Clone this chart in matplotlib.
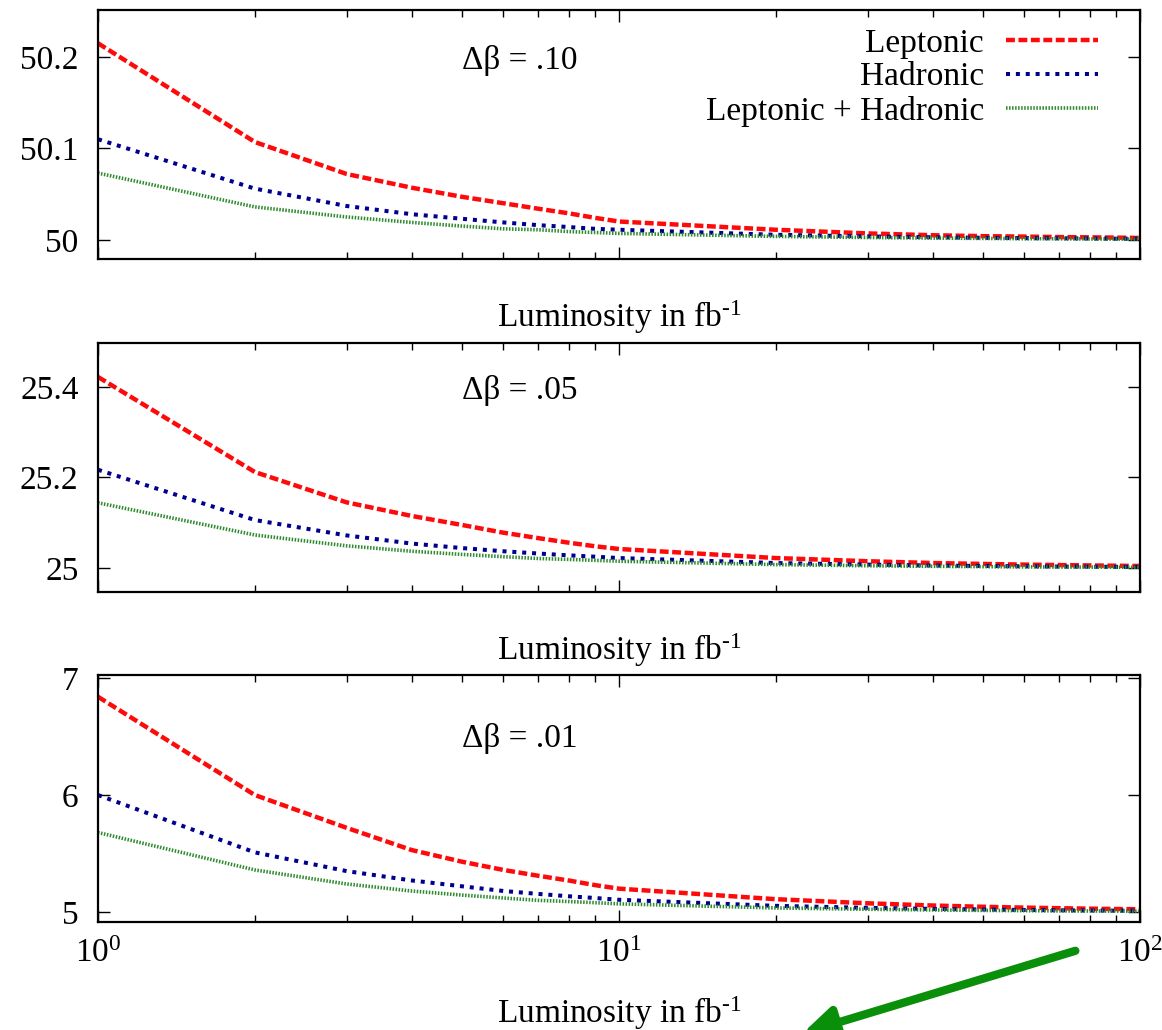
import matplotlib
matplotlib.use('Agg')
import matplotlib.pyplot as plt
from matplotlib.ticker import FixedLocator, LogLocator, NullFormatter

plt.rcParams['font.family'] = ['Liberation Serif', 'DejaVu Serif']
plt.rcParams['mathtext.fontset'] = 'custom'
plt.rcParams['mathtext.rm'] = 'Liberation Serif'
plt.rcParams['mathtext.it'] = 'Liberation Serif:italic'

# luminosity points (fb^-1)
lum = [1, 2, 3, 4, 5, 6, 7, 8, 9, 10, 20, 30, 40, 50, 60, 70, 80, 90, 100]

# delta beta = .10
lep_10 = [50.215, 50.107, 50.072, 50.057, 50.047, 50.040, 50.034, 50.029, 50.024, 50.020,
          50.011, 50.007, 50.005, 50.004, 50.0035, 50.003, 50.0027, 50.0024, 50.002]
had_10 = [50.110, 50.056, 50.037, 50.028, 50.023, 50.019, 50.016, 50.014, 50.012, 50.011,
          50.0055, 50.0037, 50.0028, 50.0022, 50.0018, 50.0016, 50.0014, 50.0012, 50.0011]
both_10 = [50.073, 50.036, 50.025, 50.019, 50.015, 50.012, 50.011, 50.009, 50.008, 50.007,
           50.0037, 50.0025, 50.0019, 50.0015, 50.0012, 50.0011, 50.0009, 50.0008, 50.0007]

# delta beta = .05
lep_05 = [25.422, 25.212, 25.145, 25.115, 25.095, 25.078, 25.066, 25.056, 25.048, 25.042,
          25.022, 25.015, 25.011, 25.009, 25.0075, 25.0065, 25.0057, 25.005, 25.0045]
had_05 = [25.217, 25.106, 25.072, 25.054, 25.044, 25.037, 25.032, 25.028, 25.025, 25.022,
          25.011, 25.0075, 25.0055, 25.0045, 25.0037, 25.0032, 25.0028, 25.0025, 25.0022]
both_05 = [25.144, 25.073, 25.049, 25.037, 25.030, 25.025, 25.021, 25.019, 25.017, 25.015,
           25.0075, 25.005, 25.0037, 25.003, 25.0025, 25.0021, 25.0019, 25.0017, 25.0015]

# delta beta = .01
lep_01 = [6.84, 6.00, 5.72, 5.53, 5.43, 5.36, 5.31, 5.27, 5.23, 5.20,
          5.11, 5.075, 5.056, 5.045, 5.038, 5.033, 5.029, 5.026, 5.024]
had_01 = [6.00, 5.51, 5.35, 5.27, 5.22, 5.18, 5.155, 5.135, 5.12, 5.105,
          5.053, 5.036, 5.027, 5.022, 5.018, 5.015, 5.013, 5.012, 5.011]
both_01 = [5.68, 5.36, 5.24, 5.18, 5.145, 5.12, 5.10, 5.09, 5.08, 5.07,
           5.035, 5.024, 5.018, 5.014, 5.012, 5.010, 5.009, 5.008, 5.007]

panel_labels = ['\u0394\u03b2 = .10', '\u0394\u03b2 = .05', '\u0394\u03b2 = .01']
yticks = [[50, 50.1, 50.2], [25, 25.2, 25.4], [5, 6, 7]]
yticklabels = [['50', '50.1', '50.2'], ['25', '25.2', '25.4'], ['5', '6', '7']]
ylims = [(49.979, 50.2514), (24.947, 25.497), (4.915, 7.026)]
series = [(lep_10, had_10, both_10), (lep_05, had_05, both_05), (lep_01, had_01, both_01)]

W, H = 1162, 1030
fig = plt.figure(figsize=(W / 100, H / 100), dpi=100)

# axes boxes in pixels: (top, bottom)
boxes = [(10, 259), (343, 592), (675, 922)]
label_y = [(60, 10), (390, 343), (738, 675)]
left_px, right_px = 98, 1140

fs = 24
for i, (top, bot) in enumerate(boxes):
    ax = fig.add_axes([left_px / W, 1 - bot / H, (right_px - left_px) / W, (bot - top) / H])
    lep, had, both = series[i]
    ax.plot(lum, lep, color='#ff0a0a', lw=3.2, dashes=(2.0, 0.8), label='Leptonic')
    ax.plot(lum, had, color='#00008f', lw=2.9, dashes=(1.0, 1.45), label='Hadronic')
    ax.plot(lum, both, color='#2e8b2e', lw=2.6, dashes=(0.42, 0.42), label='Leptonic + Hadronic')

    ax.set_xscale('log')
    ax.set_xlim(1, 100)
    ax.set_ylim(*ylims[i])
    ax.set_yticks(yticks[i])
    ax.set_yticklabels(yticklabels[i])
    ax.xaxis.set_major_locator(FixedLocator([1, 10, 100]))
    ax.xaxis.set_minor_locator(LogLocator(base=10, subs=range(2, 10)))
    ax.xaxis.set_minor_formatter(NullFormatter())

    for s in ax.spines.values():
        s.set_linewidth(1.6)
    ax.tick_params(which='both', direction='in', top=True, right=True, width=1.0)
    ax.tick_params(which='major', length=8.5, labelsize=fs, pad=14)
    ax.tick_params(which='minor', length=5)
    if i < 2:
        ax.tick_params(axis='x', labelbottom=False)
        ax.xaxis.set_label_coords(0.5, -0.157)
    else:
        ax.tick_params(axis='x', pad=12)
        ax.xaxis.set_label_coords(0.5, -0.293)
    ax.set_xlabel(r'Luminosity in fb$^{\text{-}1}$', fontsize=fs, va='top')

    cy, tp = label_y[i]
    ax.text((462 - left_px) / (right_px - left_px), 1 - (cy - tp) / (bot - top), panel_labels[i],
            transform=ax.transAxes, fontsize=fs, ha='left', va='center')

    if i == 0:
        ax.legend(loc='upper right', frameon=False, markerfirst=False, fontsize=fs,
                  handlelength=2.75, handletextpad=0.67, labelspacing=0.1,
                  borderpad=0, borderaxespad=0,
                  bbox_to_anchor=((1098 - left_px) / (right_px - left_px), 1 - 18 / (bot - top)))

# green annotation arrow at the bottom
fig.patches.append(matplotlib.patches.FancyArrowPatch(
    (1078 / W, 1 - 950 / H), (800 / W, 1 - 1034 / H), transform=fig.transFigure,
    arrowstyle='-|>', mutation_scale=48, lw=6.0, color='#0a8f0a'))

fig.savefig('out.png', dpi=100)
